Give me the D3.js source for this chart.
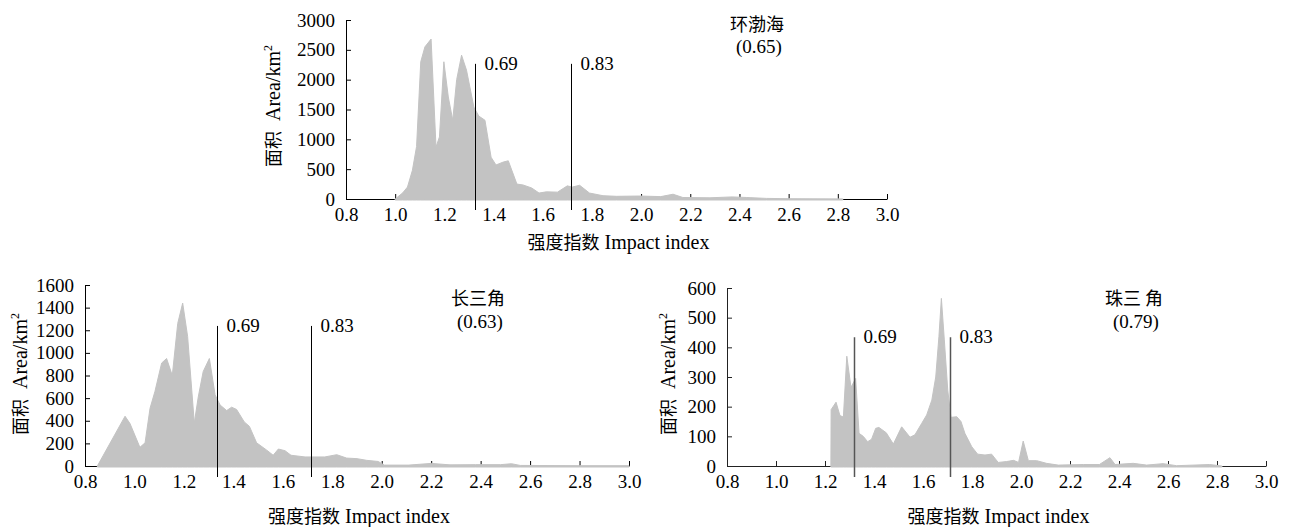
<!DOCTYPE html>
<html><head><meta charset="utf-8">
<script src="https://cdn.jsdelivr.net/npm/d3@7"></script>
<style>
body{margin:0;background:#fff}
</style>
</head><body>
<svg id="c" width="1292" height="527"></svg>
<script>
// ---- data ----
const xTicks = [0.8, 1.0, 1.2, 1.4, 1.6, 1.8, 2.0, 2.2, 2.4, 2.6, 2.8, 3.0];
const yTicksBH = [0, 500, 1000, 1500, 2000, 2500, 3000];
const yTicksYR = [0, 200, 400, 600, 800, 1000, 1200, 1400, 1600];
const yTicksPR = [0, 100, 200, 300, 400, 500, 600];
const thresholdLabels = ["0.69", "0.83"];
const regionNames = ["环渤海", "长三角", "珠三 角"];
const regionValues = ["(0.65)", "(0.63)", "(0.79)"];

// 环渤海
const bhX = [1.00,1.03,1.05,1.07,1.087,1.104,1.121,1.146,1.166,1.18,1.198,1.216,1.234,1.25,1.27,1.29,1.32,1.34,1.365,1.39,1.41,1.44,1.46,1.495,1.52,1.555,1.585,1.615,1.66,1.70,1.72,1.75,1.79,1.845,1.90,1.995,2.08,2.13,2.17,2.28,2.37,2.43,2.51,2.60,2.82];
const bhY = [0,100,200,480,880,2300,2550,2680,870,1040,2300,1710,1320,2000,2410,2160,1540,1390,1320,700,570,620,640,250,235,185,100,120,115,220,200,230,100,55,45,50,40,80,25,20,35,25,10,5,2];
const bhLines = [1.325, 1.713];

// 长三角
const yrX = [0.85,0.962,0.982,1.022,1.043,1.063,1.083,1.11,1.13,1.153,1.175,1.195,1.215,1.242,1.258,1.278,1.303,1.326,1.346,1.373,1.393,1.413,1.444,1.465,1.494,1.535,1.561,1.582,1.609,1.633,1.69,1.77,1.818,1.858,1.90,1.939,1.986,2.01,2.11,2.20,2.276,2.38,2.48,2.525,2.56,2.80,3.00];
const yrY = [0,440,375,165,205,510,660,910,950,800,1260,1440,1145,380,610,835,950,630,540,490,520,500,390,350,205,140,95,150,135,95,80,80,100,70,65,50,40,8,8,23,10,12,12,20,5,3,3];
const yrLines = [1.333, 1.715];

// 珠三角
const prX = [1.224,1.225,1.245,1.261,1.275,1.289,1.306,1.325,1.339,1.356,1.374,1.39,1.407,1.42,1.45,1.479,1.513,1.547,1.567,1.595,1.615,1.636,1.652,1.665,1.675,1.687,1.701,1.714,1.738,1.755,1.771,1.799,1.823,1.853,1.88,1.907,1.941,1.97,1.99,2.009,2.03,2.064,2.104,2.152,2.254,2.32,2.363,2.384,2.458,2.513,2.58,2.635,2.77,2.82];
const prY = [0,190,215,170,165,370,265,295,110,100,82,90,127,130,112,74,132,97,105,144,172,222,300,436,565,425,256,164,166,150,110,65,40,37,40,12,15,19,12,84,18,18,9,3,5,5,28,5,9,3,8,1,5,0];
const prLines = [1.320, 1.710];

// ---- layout ----
const SERIF = "'Liberation Serif', 'Tinos', 'Times New Roman', 'DejaVu Serif', serif";
const CJK = "'Noto Sans CJK SC', 'Noto Sans CJK JP', sans-serif";

const panels = [
  {xs: bhX, ys: bhY, yTicks: yTicksBH, lines: bhLines, lineTop: 2265,
   l: 346, r: 887, t: 20, b: 199, axisColor: "#000", lineColor: "#000",
   name: regionNames[0], val: regionValues[0], tx: 757, ty: 31, ty2: 53,
   ytx: 273, yty: 106, xty: 249},
  {xs: yrX, ys: yrY, yTicks: yTicksYR, lines: yrLines, lineTop: 1238,
   l: 85, r: 629, t: 285, b: 466, axisColor: "#000", lineColor: "#000",
   name: regionNames[1], val: regionValues[1], tx: 478, ty: 305, ty2: 328,
   ytx: 20, yty: 374, xty: 523},
  {xs: prX, ys: prY, yTicks: yTicksPR, lines: prLines, lineTop: 434,
   l: 727, r: 1266, t: 288, b: 466, axisColor: "#222", lineColor: "#555",
   name: regionNames[2], val: regionValues[2], tx: 1134, ty: 305, ty2: 328,
   ytx: 668, yty: 374, xty: 523}
];

const svg = d3.select("#c");
const FS = 19;

panels.forEach(p => {
  const x = d3.scaleLinear().domain([0.8, 3.0]).range([p.l, p.r]);
  const y = d3.scaleLinear().domain([0, d3.max(p.yTicks)]).range([p.b, p.t]);
  const g = svg.append("g");

  // axes
  const gx = g.append("g").attr("transform", `translate(0,${p.b})`)
    .call(d3.axisBottom(x).tickValues(xTicks).tickFormat(d3.format(".1f"))
      .tickSizeInner(-5).tickSizeOuter(0).tickPadding(9));
  const gy = g.append("g").attr("transform", `translate(${p.l},0)`)
    .call(d3.axisLeft(y).tickValues(p.yTicks).tickFormat(d3.format("d"))
      .tickSizeInner(-5).tickSizeOuter(0).tickPadding(11));
  [gx, gy].forEach(a => {
    a.attr("font-family", SERIF).attr("font-size", FS);
    a.selectAll("path,line").attr("stroke", p.axisColor).attr("stroke-width", 1);
    a.selectAll("text").attr("font-size", FS).attr("fill", "#000")
      .attr("font-family", SERIF);
  });

  // area
  const data = p.xs.map((d, i) => [d, p.ys[i]]);
  const area = d3.area().x(d => x(d[0])).y0(p.b + 1).y1(d => y(d[1]));
  g.append("path").datum(data).attr("d", area)
    .attr("fill", "#c3c3c3").attr("stroke", "#c3c3c3").attr("stroke-width", 1);

  // threshold lines
  p.lines.forEach((lx, i) => {
    const px = Math.round(x(lx)) + 0.5;
    g.append("line").attr("x1", px).attr("x2", px)
      .attr("y1", y(p.lineTop)).attr("y2", p.b + 11)
      .attr("stroke", p.lineColor).attr("stroke-width", p.lineColor === "#000" ? 1 : 1.5);
    g.append("text").attr("x", px + 9).attr("y", y(p.lineTop) + 6)
      .attr("font-family", SERIF).attr("font-size", FS).text(thresholdLabels[i]);
  });

  // region title
  g.append("text").attr("x", p.tx).attr("y", p.ty).attr("text-anchor", "middle")
    .attr("font-size", 18).attr("font-family", CJK).text(p.name);
  g.append("text").attr("x", p.tx + 2).attr("y", p.ty2).attr("text-anchor", "middle")
    .attr("font-family", SERIF).attr("font-size", FS).text(p.val);

  // x title
  const xt = g.append("text").attr("x", (p.l + p.r) / 2 + 2).attr("y", p.xty)
    .attr("text-anchor", "middle").attr("font-size", 20).attr("font-family", SERIF);
  xt.append("tspan").attr("font-family", CJK).attr("font-size", 18).text("强度指数");
  xt.append("tspan").text(" Impact index");

  // y title
  const yt = g.append("text").attr("transform", `translate(${p.ytx + 7},${p.yty}) rotate(-90)`)
    .attr("text-anchor", "middle").attr("font-size", 20).attr("font-family", SERIF);
  yt.append("tspan").attr("font-family", CJK).attr("font-size", 18).text("面积");
  yt.append("tspan").text("\u00a0\u00a0Area/km");
  yt.append("tspan").attr("font-size", 12).attr("dy", -8).text("2");
});
</script>
</body></html>
